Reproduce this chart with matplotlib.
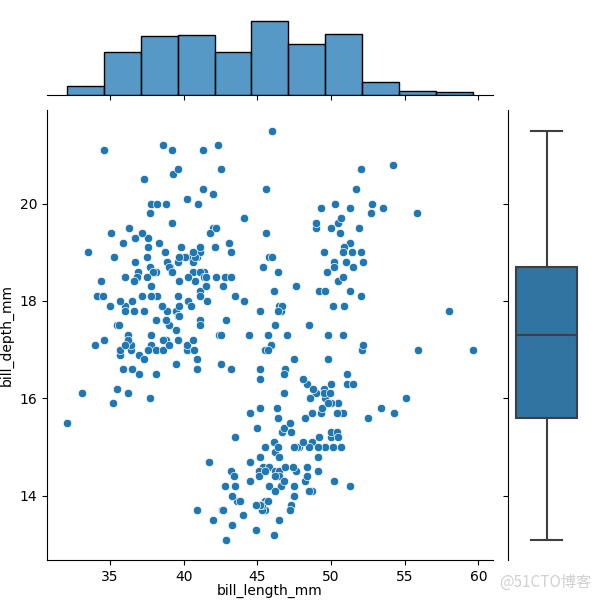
import numpy as np
import pandas as pd
import matplotlib
matplotlib.use("Agg")
import matplotlib.pyplot as plt
import seaborn as sns

adelie_length = [
    39.1, 39.5, 40.3, 36.7, 39.3, 38.9, 39.2, 34.1, 42.0, 37.8, 37.8, 41.1, 38.6, 34.6, 36.6, 38.7,
    42.5, 34.4, 46.0, 37.8, 37.7, 35.9, 38.2, 38.8, 35.3, 40.6, 40.5, 37.9, 40.5, 39.5, 37.2, 39.5,
    40.9, 36.4, 39.2, 38.8, 42.2, 37.6, 39.8, 36.5, 40.8, 36.0, 44.1, 37.0, 39.6, 41.1, 37.5, 36.0,
    42.3, 39.6, 40.1, 35.0, 42.0, 34.5, 41.4, 39.0, 40.6, 36.5, 37.6, 35.7, 41.3, 37.6, 41.1, 36.4,
    41.6, 35.5, 41.1, 35.9, 41.8, 33.5, 39.7, 39.6, 45.8, 35.5, 42.8, 40.9, 37.2, 36.2, 42.1, 34.6,
    42.9, 36.7, 35.1, 37.3, 41.3, 36.3, 36.9, 38.3, 38.9, 35.7, 41.1, 34.0, 39.6, 36.2, 40.8, 38.1,
    40.3, 33.1, 43.2, 35.0, 41.0, 37.7, 37.8, 37.9, 39.7, 38.6, 38.2, 38.1, 43.2, 38.1, 45.6, 39.7,
    42.2, 39.6, 42.7, 38.6, 37.3, 35.7, 41.1, 36.2, 37.7, 40.2, 41.4, 35.2, 40.6, 38.8, 41.5, 39.0,
    44.1, 38.5, 43.1, 36.8, 37.5, 38.1, 41.1, 35.6, 40.2, 37.0, 39.7, 40.2, 40.6, 32.1, 40.7, 37.3,
    39.0, 39.2, 36.6, 36.0, 37.8, 36.0, 41.5,
]
adelie_depth = [
    18.7, 17.4, 18.0, 19.3, 20.6, 17.8, 19.6, 18.1, 20.2, 17.1, 17.3, 17.6, 21.2, 21.1, 17.8, 19.0,
    20.7, 18.4, 21.5, 18.3, 18.7, 19.2, 18.1, 17.2, 18.9, 18.6, 17.9, 18.6, 18.9, 16.7, 18.1, 17.8,
    18.9, 17.0, 21.1, 20.0, 18.5, 19.3, 19.1, 18.0, 18.4, 18.5, 19.7, 16.9, 18.8, 19.0, 18.9, 17.9,
    21.2, 17.7, 18.9, 17.9, 19.5, 18.1, 18.6, 17.5, 18.8, 16.6, 19.1, 16.9, 21.1, 17.0, 18.2, 17.1,
    18.0, 16.2, 19.1, 16.6, 19.4, 19.0, 18.4, 17.2, 18.9, 17.5, 18.5, 16.8, 19.4, 16.1, 19.1, 17.2,
    17.6, 18.8, 19.4, 17.8, 20.3, 19.5, 18.6, 19.2, 18.8, 18.0, 18.1, 17.1, 18.1, 17.3, 18.9, 18.6,
    18.5, 16.1, 18.5, 17.9, 20.0, 16.0, 20.0, 18.6, 18.9, 17.2, 20.0, 17.0, 19.0, 16.5, 20.3, 17.7,
    19.5, 20.7, 18.3, 17.0, 20.5, 17.0, 18.6, 17.2, 19.8, 17.0, 18.5, 15.9, 19.0, 17.6, 18.3, 17.1,
    18.0, 17.9, 19.2, 18.5, 18.5, 17.6, 17.5, 17.5, 20.1, 16.5, 17.9, 17.1, 17.2, 15.5, 17.0, 16.8,
    18.7, 18.6, 18.4, 17.8, 18.1, 17.1, 18.5,
]
gentoo_length = [
    46.1, 50.0, 48.7, 50.0, 47.6, 46.5, 45.4, 46.7, 43.3, 46.8, 40.9, 49.0, 45.5, 48.4, 45.8, 49.3,
    42.0, 49.2, 46.2, 48.7, 50.2, 45.1, 46.5, 46.3, 42.9, 46.1, 44.5, 47.8, 48.2, 50.0, 47.3, 42.8,
    45.1, 59.6, 49.1, 48.4, 42.6, 44.4, 44.0, 48.7, 42.7, 49.6, 45.3, 49.6, 50.5, 43.6, 45.5, 50.5,
    44.9, 45.2, 46.6, 48.5, 45.1, 50.1, 46.5, 45.0, 43.8, 45.5, 43.2, 50.4, 45.3, 46.2, 45.7, 54.3,
    45.8, 49.8, 46.2, 49.5, 43.5, 50.7, 47.7, 46.4, 48.2, 46.5, 46.4, 48.6, 47.5, 51.1, 45.2, 45.2,
    49.1, 52.5, 47.4, 50.0, 44.9, 50.8, 43.4, 51.3, 47.5, 52.1, 47.5, 52.2, 45.5, 49.5, 44.5, 50.8,
    49.4, 46.9, 48.4, 51.1, 48.5, 55.9, 47.2, 49.1, 47.3, 46.8, 41.7, 53.4, 43.3, 48.1, 50.5, 49.8,
    43.5, 51.5, 46.2, 55.1, 44.5, 48.8, 47.2, 46.8, 50.4, 45.2, 49.9,
]
gentoo_depth = [
    13.2, 16.3, 14.1, 15.2, 14.5, 13.5, 14.6, 15.3, 13.4, 15.4, 13.7, 16.1, 13.7, 14.6, 14.6, 15.7,
    13.5, 15.2, 14.5, 15.1, 14.3, 14.5, 14.5, 15.8, 13.1, 15.1, 14.3, 15.0, 14.3, 15.3, 15.3, 14.2,
    14.5, 17.0, 14.8, 16.3, 13.7, 17.3, 13.6, 15.7, 13.7, 16.0, 13.7, 15.0, 15.9, 13.9, 13.9, 15.9,
    13.3, 15.8, 14.2, 14.1, 14.4, 15.0, 14.4, 15.4, 13.9, 15.0, 14.5, 15.3, 13.8, 14.9, 13.9, 15.7,
    14.2, 16.8, 14.4, 16.2, 14.2, 15.0, 15.0, 15.6, 15.6, 14.8, 15.0, 16.0, 14.2, 16.3, 13.8, 16.4,
    14.5, 15.6, 14.6, 15.9, 13.8, 17.3, 14.4, 14.2, 14.0, 17.0, 15.0, 17.1, 14.5, 16.1, 14.7, 15.7,
    15.8, 14.6, 14.4, 16.5, 15.0, 17.0, 15.5, 15.0, 13.8, 16.1, 14.7, 15.8, 14.0, 15.1, 15.2, 15.9,
    15.2, 16.3, 14.1, 16.0, 15.7, 16.2, 13.7, 14.3, 15.7, 14.8, 16.1,
]
chinstrap_length = [
    46.5, 50.0, 51.3, 45.4, 52.7, 45.2, 46.1, 51.3, 46.0, 51.3, 46.6, 51.7, 47.0, 52.0, 45.9, 50.5,
    50.3, 58.0, 46.4, 49.2, 42.4, 48.5, 43.2, 50.6, 46.7, 52.0, 50.5, 49.5, 46.4, 52.8, 40.9, 54.2,
    42.5, 51.0, 49.7, 47.5, 47.6, 52.0, 46.9, 53.5, 49.0, 46.2, 50.9, 45.5, 50.9, 50.8, 50.1, 49.0,
    51.5, 49.8, 48.1, 51.4, 45.7, 50.7, 42.5, 52.2, 45.2, 49.3, 50.2, 45.6, 51.9, 46.8, 45.7, 55.8,
    43.5, 49.6, 50.8, 50.2,
]
chinstrap_depth = [
    17.9, 19.5, 19.2, 18.7, 19.8, 17.8, 18.2, 18.2, 18.9, 19.9, 17.8, 20.3, 17.3, 18.1, 17.1, 19.6,
    20.0, 17.8, 18.6, 18.2, 17.3, 17.5, 16.6, 19.4, 17.9, 19.0, 18.4, 19.0, 17.8, 20.0, 16.6, 20.8,
    16.7, 18.8, 18.6, 16.8, 18.3, 20.7, 16.6, 19.9, 19.5, 17.5, 19.1, 17.0, 17.9, 18.5, 17.9, 19.6,
    18.7, 17.3, 16.4, 19.0, 17.3, 19.7, 17.3, 18.8, 16.6, 19.9, 18.8, 19.4, 19.5, 16.5, 17.0, 19.8,
    18.1, 18.2, 19.0, 18.7,
]

penguins = pd.DataFrame({
    "bill_length_mm": adelie_length + gentoo_length + chinstrap_length,
    "bill_depth_mm": adelie_depth + gentoo_depth + chinstrap_depth,
})

g = sns.JointGrid(data=penguins, x="bill_length_mm", y="bill_depth_mm", height=6)
g.plot_joint(sns.scatterplot)
sns.histplot(data=penguins, x="bill_length_mm", ax=g.ax_marg_x)
sns.boxplot(data=penguins, y="bill_depth_mm", ax=g.ax_marg_y,
            linewidth=1.5, linecolor="#3f3f3f")

# same placement as the reference; pull the x label up a bit so it is not clipped
g.figure.set_size_inches(6, 6)
g.figure.subplots_adjust(left=47 / 600, right=585 / 600, bottom=40 / 600,
                         top=1 - 17 / 600, wspace=0.2, hspace=0.2)
g.ax_joint.set_xlabel("bill_length_mm", labelpad=0)

# watermark in the lower right corner
g.figure.text(0.985, 0.015, "@51CTO博客", ha="right", va="bottom", fontsize=11,
              color="#d0d0d0", family=["Noto Sans CJK SC", "DejaVu Sans"])

g.figure.savefig("out.png", dpi=100)
